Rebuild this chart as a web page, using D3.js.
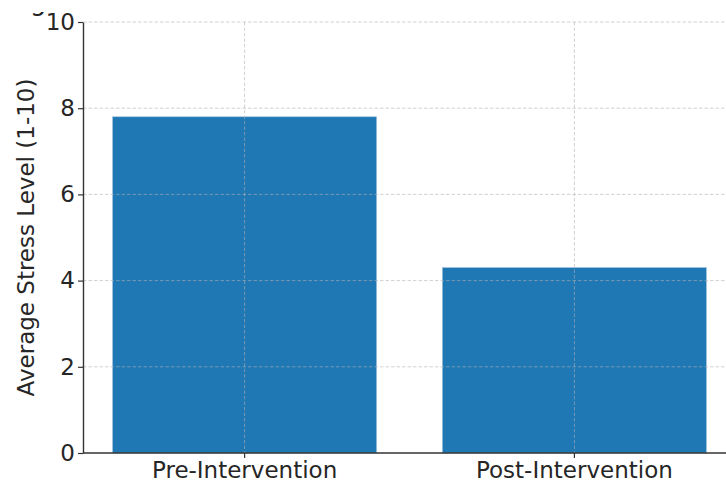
<!DOCTYPE html>
<html>
<head>
<meta charset="utf-8">
<script src="https://cdn.jsdelivr.net/npm/d3@7"></script>
<style>
  html, body { margin: 0; padding: 0; background: #fff; }
  svg { display: block; }
  text { font-family: "DejaVu Sans", sans-serif; }
</style>
</head>
<body>
<svg id="chart" width="726" height="482"></svg>
<script>
const categories = ["Pre-Intervention", "Post-Intervention"];
const stressValues = [7.8, 4.3];
const yTicks = [0, 2, 4, 6, 8, 10];
const yLabel = "Average Stress Level (1-10)";
const titleFragment = "g";

(function () {
const svg = d3.select("#chart");
const W = 726;
const mLeft = 83, mBottom = 453, mTop = 22, rightEnd = 736;
const fs = 23;

const x = d3.scaleBand().domain(categories).range([mLeft, rightEnd])
  .paddingInner(0.2).paddingOuter(0.09);
const y = d3.scaleLinear().domain([0, 10]).range([mBottom, mTop]);

// clipped title fragment at top (the reference shows only its descender)
const defs = svg.append("defs");
defs.append("clipPath").attr("id", "titleClip")
  .append("rect").attr("x", 0).attr("y", 12).attr("width", 200).attr("height", 10);
svg.append("text").attr("clip-path", "url(#titleClip)")
  .attr("x", 30).attr("y", 10)
  .attr("font-size", 26).attr("fill", "#222")
  .text(titleFragment);

// bars
svg.append("g").selectAll("rect").data(categories).join("rect")
  .attr("x", d => x(d))
  .attr("width", x.bandwidth())
  .attr("y", (d, i) => y(stressValues[i]))
  .attr("height", (d, i) => y(0) - y(stressValues[i]))
  .attr("fill", "#1f77b4")
  .attr("stroke", "#8fb8d8")
  .attr("stroke-width", 0.6);

// grid (drawn above bars)
const grid = svg.append("g").attr("stroke", "#b0b0b0").attr("stroke-opacity", 0.65)
  .attr("stroke-width", 0.9).attr("stroke-dasharray", "3.5,2");
grid.selectAll("line.h").data(yTicks.filter(t => t > 0)).join("line")
  .attr("class", "h")
  .attr("x1", mLeft).attr("x2", W)
  .attr("y1", d => y(d)).attr("y2", d => y(d));
grid.selectAll("line.v").data(categories).join("line")
  .attr("class", "v")
  .attr("x1", d => x(d) + x.bandwidth() / 2).attr("x2", d => x(d) + x.bandwidth() / 2)
  .attr("y1", mTop).attr("y2", mBottom);

// axes
const yAxis = svg.append("g").attr("transform", `translate(${mLeft},0)`)
  .call(d3.axisLeft(y).tickValues(yTicks).tickSize(5).tickPadding(3).tickSizeOuter(0));
const xAxis = svg.append("g").attr("transform", `translate(0,${mBottom})`)
  .call(d3.axisBottom(x).tickSize(5).tickPadding(4).tickSizeOuter(0));

[yAxis, xAxis].forEach(a => {
  a.select(".domain").attr("stroke", "#333").attr("stroke-width", 1.4);
  a.selectAll(".tick line").attr("stroke", "#333").attr("stroke-width", 1.2);
  a.selectAll(".tick text").attr("fill", "#262626").attr("font-size", fs)
    .attr("font-family", "DejaVu Sans, sans-serif");
});
xAxis.select(".domain").attr("d", `M${mLeft},0H${W}`);

// y label
svg.append("text")
  .attr("transform", `translate(34,${(mTop + mBottom) / 2}) rotate(-90)`)
  .attr("text-anchor", "middle")
  .attr("font-size", fs).attr("fill", "#262626")
  .text(yLabel);
})();
</script>
</body>
</html>
